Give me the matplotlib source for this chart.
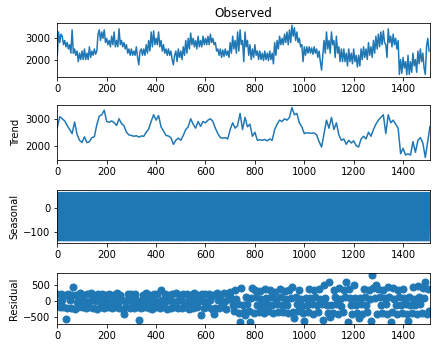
import numpy as np
import matplotlib
matplotlib.use("Agg")
import matplotlib.pyplot as plt

plt.rcParams.update({"font.size": 10})

N_POINTS = 1510

# trend, one reading every 10 steps (last one at the series end)
trend_x = np.append(np.arange(0, 1500, 10), 1509)
trend = [
    2680, 3080, 3000, 2920, 2750, 2600, 2450, 2880, 2420, 2200,
    2120, 2330, 2110, 2150, 2300, 2330, 2780, 3100, 3150, 3320,
    2900, 2870, 2920, 2860, 2750, 3000, 2820, 2740, 2500, 2400,
    2380, 2350, 2370, 2320, 2360, 2350, 2500, 2620, 2900, 3150,
    2950, 3120, 2700, 2550, 2380, 2360, 2300, 2050, 2200, 2280,
    2200, 2380, 2600, 2700, 3000, 2800, 2650, 2900, 2720, 2900,
    2850, 2950, 3000, 2900, 2650, 2450, 2300, 2280, 2300, 2250,
    2600, 2850, 2650, 2750, 3200, 2600, 3050, 2700, 2800, 2350,
    2500, 2200, 2220, 2200, 2230, 2180, 2250, 2200, 2600, 2800,
    2950, 2900, 3000, 2950, 3050, 3420, 3150, 3200, 2850, 2700,
    2450, 2480, 2470, 2460, 2470, 2400, 2150, 1950, 2450, 2950,
    2650, 3050, 2600, 2850, 2400, 2200, 2250, 2050, 2200, 2100,
    2180, 2000, 1950, 2250, 2350, 2250, 2500, 2350, 2600, 2800,
    2950, 3050, 3150, 2450, 3150, 2850, 2950, 2800, 2650, 1700,
    1900, 1650, 1700, 1650, 2150, 1750, 2200, 2300, 2100, 1560,
    2720,
]

# observed, one reading every 5 steps
obs_x = np.arange(0, 1510, 5)
observed = [
    2200, 3300, 2800, 3200, 3100, 2700, 2900, 2600, 2800, 2500,
    2700, 2300, 3400, 2300, 2500, 2200, 2400, 1900, 2300, 2000,
    2400, 2000, 2500, 2000, 2300, 2000, 2600, 2100, 2400, 2200,
    2500, 2250, 2400, 3200, 3400, 2900, 3300, 3000, 3400, 2800,
    3000, 2700, 2900, 2600, 3100, 2700, 3300, 2600, 2900, 2600,
    3450, 2700, 2900, 2600, 2800, 2500, 2700, 2300, 2500, 2200,
    2500, 2200, 2400, 2200, 2600, 2100, 1750, 2400, 2500, 2200,
    2500, 2200, 2700, 2300, 2900, 2400, 3300, 2600, 3350, 2700,
    3000, 2700, 3300, 2600, 2900, 2400, 2700, 2300, 2500, 2200,
    2500, 2200, 2400, 2000, 1750, 2200, 2400, 1900, 2500, 2100,
    2400, 2000, 2600, 2200, 2900, 2300, 3000, 2500, 3250, 2700,
    3000, 2600, 2900, 2500, 3100, 2600, 2900, 2600, 3100, 2700,
    3000, 2700, 3100, 2700, 3200, 2800, 3000, 2700, 2800, 2400,
    2500, 2200, 2500, 2100, 2450, 2150, 2500, 2200, 2400, 2100,
    2800, 2300, 3100, 2500, 2900, 2300, 3300, 2400, 3400, 2700,
    2900, 1900, 3300, 2600, 2900, 2200, 2700, 2000, 2500, 2100,
    2700, 2200, 2400, 2000, 2400, 2000, 2300, 1950, 2400, 2000,
    2300, 1950, 2400, 2000, 2300, 1800, 2800, 2200, 2900, 2500,
    3100, 2700, 3000, 2700, 3200, 2800, 3300, 2700, 3400, 2800,
    3620, 3100, 3500, 2900, 3300, 2800, 3000, 2600, 2700, 1900,
    2600, 2200, 2600, 2300, 2600, 2300, 2550, 2250, 2600, 2300,
    2500, 2100, 2400, 1900, 1500, 2200, 2900, 2300, 3300, 2500,
    2900, 2300, 3300, 2700, 2900, 2100, 3100, 2300, 2600, 1900,
    2500, 1900, 2500, 1900, 2300, 1700, 2500, 1900, 2300, 1800,
    2500, 1900, 2200, 1650, 2200, 1700, 2500, 2000, 2600, 2100,
    2500, 2000, 2800, 2200, 2600, 2100, 2900, 2300, 3100, 2500,
    3200, 2600, 3300, 2700, 3350, 2800, 2700, 2100, 3450, 2800,
    3100, 2600, 3200, 2700, 3000, 2500, 2900, 1300, 2000, 1350,
    2100, 1600, 1900, 1280, 2200, 1300, 1900, 1400, 2300, 1700,
    2000, 1400, 2400, 1800, 2500, 1900, 2300, 1600, 1300, 2600,
    3000, 2400,
]

# one weekly cycle of the seasonal component
seasonal_cycle = [66, 15, 30, 10, -136, 5, 10]

# residual, one reading every 5 steps
resid_x = np.arange(0, 1510, 5)
residual = [
    210, -20, -200, 230, 30, -180, 190, -570, -230, 220, 40, -210, 180, 450, -240, 200, -30, -190, 240, 10,
    -200, 190, 0, -230, 220, -40, -180, 240, 30, -210, 180, -10, -240, 210, 40, -190, 230, -30, -220, 200,
    10, -200, 220, -20, -230, 190, 40, -190, 240, -40, -210, 200, 20, -240, -420, -10, -200, 230, 30, -220,
    210, -20, -210, 230, 30, -190, -600, 0, -230, 200, -40, -200, 240, 20, -220, 190, -30, -240, 220, 10,
    -200, 210, -20, -220, 350, 30, -190, 230, -10, -240, 200, 40, -210, 220, -30, -200, 240, 0, -230, 190,
    20, -210, 220, -40, -190, 210, 10, -240, 200, -20, -220, 260, 30, -200, 190, -10, -450, 230, 0, -210,
    220, -30, -200, 210, 40, -250, 190, -400, -210, 240, 20, -230, 200, -40, -190, 260, 10, -260, 220, 50,
    300, 110, -120, -320, 350, 70, -90, -370, -660, 420, -140, -340, -450, 130, -80, -300, -660, 90, 400, -380,
    360, 130, -110, -340, 320, 60, -150, -380, 380, 100, -90, -330, 340, 140, -130, -390, 300, 80, -100, -360,
    380, 120, -140, -340, 330, 70, -110, -380, 360, 90, 450, -350, -550, 130, -100, -330, 360, 80, -150, -380,
    -640, 110, -120, -360, 380, 90, -100, -400, 340, 140, -140, -340, 390, 60, -90, -600, 500, 100, -130, -380,
    600, -500, -110, -390, 360, 120, -100, -410, 400, 80, -150, -360, 340, 130, 600, -660, 380, 100, -110, -410,
    500, 110, -130, -380, -550, 90, -100, -420, 390, 140, -120, -360, 360, 70, -640, 820, 410, 100, 500, -400,
    380, 120, -140, -390, 340, 100, -90, -420, 450, 130, -660, -360, 400, 60, -110, -410, 360, 140, -130, -380,
    390, 100, -100, -400, -640, 120, -140, -380, 430, 80, -110, -420, 460, 140, -90, -390, 410, 110, 600, -410,
    380, -300,
]

seasonal = np.resize(seasonal_cycle, N_POINTS)

W, H = 435, 347
fig = plt.figure(figsize=(W / 72, H / 72), dpi=72)


def add_panel(top, bottom):
    return fig.add_axes([57.3 / W, 1 - bottom / H, (430 - 57.3) / W, (bottom - top) / H])


ax_obs = add_panel(22.7, 77.3)
ax_trend = add_panel(105, 160)
ax_seas = add_panel(190, 243.3)
ax_resid = add_panel(272.7, 324.3)

ax_obs.plot(obs_x, observed)
ax_obs.set_title("Observed")
ax_obs.set_yticks([2000, 3000])

ax_trend.plot(trend_x, trend)
ax_trend.set_ylabel("Trend")
ax_trend.set_yticks([2000, 3000])

ax_seas.plot(np.arange(N_POINTS), seasonal)
ax_seas.set_ylabel("Seasonal")
ax_seas.set_yticks([-100, 0])

ax_resid.plot(resid_x, residual, marker="o", markersize=7, linestyle="none")
ax_resid.set_ylabel("Residual")
ax_resid.set_yticks([-500, 0, 500])

for ax in (ax_obs, ax_trend, ax_seas, ax_resid):
    ax.set_xlim(0, 1509)
    ax.set_xticks(range(0, 1401, 200))

fig.savefig("out.png", dpi=72)
